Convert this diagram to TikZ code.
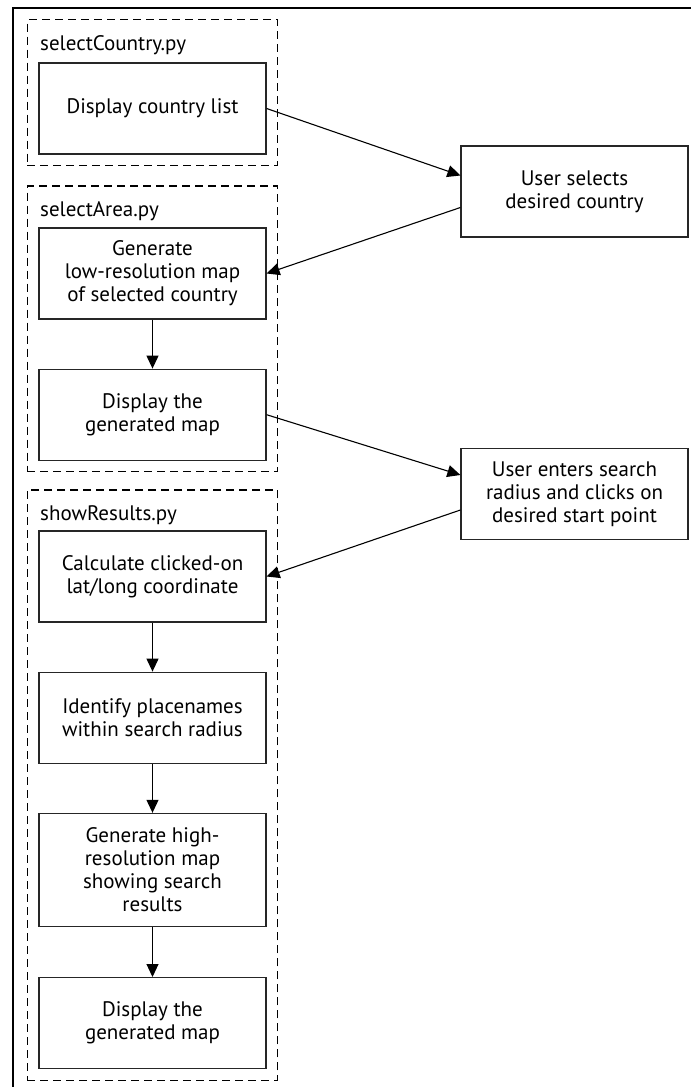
\documentclass[tikz,border=0pt]{standalone}
\usepackage{fontspec}
\setmainfont{PT Sans}
\usetikzlibrary{arrows.meta,positioning,fit}

\begin{document}
\begin{tikzpicture}[
    x=1pt, y=-1pt,
    node distance=49pt,
    box/.style={
        rectangle,
        draw=black!85,
        line width=1.2pt,
        align=center,
        minimum width=227pt,
        minimum height=91pt,
        inner sep=0pt,
        fill=white,
        font=\fontsize{21}{23}\selectfont
    },
    filename/.style={
        anchor=base west,
        inner xsep=0pt,
        inner ysep=4pt,
        font=\fontsize{21}{23}\selectfont
    },
    group/.style={draw=black, line width=1.3pt, dash pattern=on 8pt off 5pt, inner sep=11pt},
    arrow/.style={-{Triangle[length=13pt,width=12pt]}, line width=1.1pt}
]
\useasboundingbox (0,0) rectangle (691,1087);

% outer frame (only top and left edge visible)
\draw[line width=1.6pt] (13,1087) -- (13,8) -- (691,8);

% selectCountry.py
\node[filename] (countrylbl) at (40,50) {selectCountry.py};
\node[box] (countrylist) at (152.5,108.5) {Display country list};
\node[group, fit=(countrylbl)(countrylist)] (countrygroup) {};

% selectArea.py
\node[filename] (arealbl) at (40,216) {selectArea.py};
\node[box] (lowresmap) at (152.5,273.5) {Generate\\low-resolution map\\of selected country};
\node[box, below=of lowresmap] (showmap) {Display the\\generated map};
\node[group, fit=(arealbl)(lowresmap)(showmap)] (areagroup) {};

% showResults.py
\node[filename] (resultslbl) at (40,520) {showResults.py};
\node[box] (clickpoint) at (152.5,576.5) {Calculate clicked-on\\lat/long coordinate};
\node[box, below=of clickpoint] (placenames) {Identify placenames\\within search radius};
\node[box, below=of placenames, minimum height=113pt] (hiresmap) {Generate high-\\resolution map\\showing search\\results};
\node[box, below=50pt of hiresmap] (finalmap) {Display the\\generated map};
\node[group, fit=(resultslbl)(clickpoint)(finalmap)] (resultsgroup) {};

% user actions
\node[box] (selectcountry) at (574.5,191.5) {User selects\\desired country};
\node[box] (enterradius) at (574.5,494) {User enters search\\radius and clicks on\\desired start point};

% Arrows
\draw[arrow] (countrylist.east) -- ([yshift=16pt]selectcountry.west);
\draw[arrow] ([yshift=-16pt]selectcountry.west) -- (lowresmap.east);
\draw[arrow] (lowresmap) -- (showmap);
\draw[arrow] (showmap.east) -- ([yshift=19pt]enterradius.west);
\draw[arrow] ([yshift=-16pt]enterradius.west) -- (clickpoint.east);
\draw[arrow] (clickpoint) -- (placenames);
\draw[arrow] (placenames) -- (hiresmap);
\draw[arrow] (hiresmap) -- (finalmap);

\end{tikzpicture}
\end{document}
